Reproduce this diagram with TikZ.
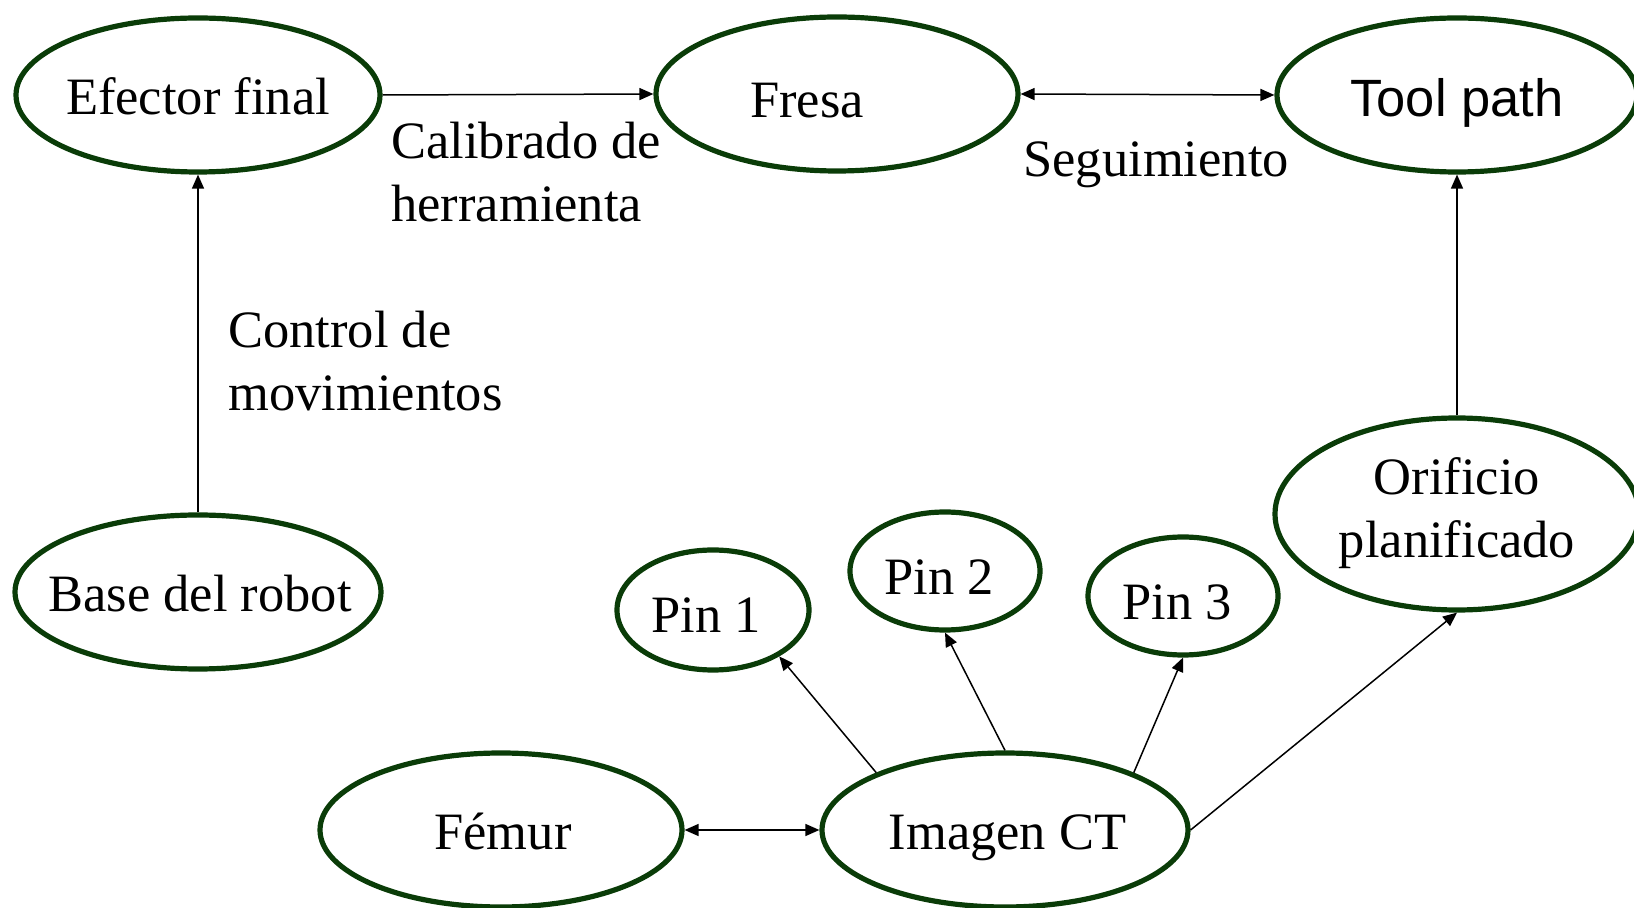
\documentclass[tikz,border=0pt]{standalone}
\usepackage{fontspec}
\setmainfont{Liberation Serif}
\newfontfamily\arialf{Liberation Sans}
\usetikzlibrary{shapes.geometric,arrows.meta}
\definecolor{dgreen}{RGB}{10,60,8}
\newcommand\inlbl[3]{\makebox[0pt]{\hspace*{#1}\raisebox{#2}{#3}}}
\tikzset{
  ell/.style={ellipse, draw=dgreen, line width=2.6pt, inner sep=0pt,
    text height=0pt, text depth=0pt, font=\fontsize{26.25pt}{31.5pt}\selectfont},
  lab/.style={inner sep=0pt, align=left, font=\fontsize{26.25pt}{31.5pt}\selectfont},
  arr/.style={-{Triangle[length=7pt,width=6pt]}, line width=0.75pt},
  darr/.style={{Triangle[length=7pt,width=6pt]}-{Triangle[length=7pt,width=6pt]}, line width=0.75pt}
}
\begin{document}
\begin{tikzpicture}[x=0.5pt,y=-0.5pt]
\useasboundingbox (0,0) rectangle (1634,908);
\clip (0,0) rectangle (1634,908);
% nodes
\node[ell, minimum width=182pt, minimum height=77pt] (efe) at (198,95) {\inlbl{0pt}{-9.8pt}{Efector final}};
\node[ell, minimum width=181pt, minimum height=77pt] (fre) at (837,94) {\inlbl{-30pt}{-12pt}{Fresa}};
\node[ell, minimum width=180pt, minimum height=77pt] (tool) at (1457,95) {\inlbl{0pt}{-11pt}{\arialf Tool path}};
\node[ell, minimum width=183pt, minimum height=77pt] (base) at (198,592) {\inlbl{2pt}{-10pt}{Base del robot}};
\node[ell, minimum width=96pt, minimum height=60pt] (pin1) at (713,610) {\inlbl{-6.5pt}{-11.25pt}{Pin 1}};
\node[ell, minimum width=95pt, minimum height=59pt] (pin2) at (945,571) {\inlbl{-6pt}{-12pt}{Pin 2}};
\node[ell, minimum width=95pt, minimum height=59pt] (pin3) at (1183,596) {\inlbl{-5.5pt}{-12pt}{Pin 3}};
\node[ell, minimum width=182pt, minimum height=96pt] (ori) at (1457,514) {\inlbl{0pt}{9.5pt}{Orificio}\inlbl{0pt}{-22pt}{planificado}};
\node[ell, minimum width=181pt, minimum height=77pt] (fem) at (501,830) {\inlbl{2pt}{-9.5pt}{Fémur}};
\node[ell, minimum width=183pt, minimum height=77pt] (img) at (1005,830) {\inlbl{2.6pt}{-9.5pt}{Imagen CT}};
% labels
\node[lab, anchor=north west] (cal) at (391,122) {Calibrado de\\herramienta};
\node[lab, anchor=base west] (seg) at (1023,177) {Seguimiento};
\node[lab, anchor=north west] (ctl) at (228,311) {Control de\\movimientos};
% connectors
\draw[arr] (efe.east) -- (fre.west);
\draw[darr] (fre.east) -- (tool.west);
\draw[arr] (base.north) -- (efe.south);
\draw[arr] (ori.north) -- (tool.south);
\draw[darr] (fem.east) -- (img.west);
\draw[arr] (img.156) -- (pin1.325);
\draw[arr] (img.north) -- (pin2.south);
\draw[arr] (img.24.6) -- (pin3.south);
\draw[arr] (img.east) -- (ori.south);
\end{tikzpicture}
\end{document}
